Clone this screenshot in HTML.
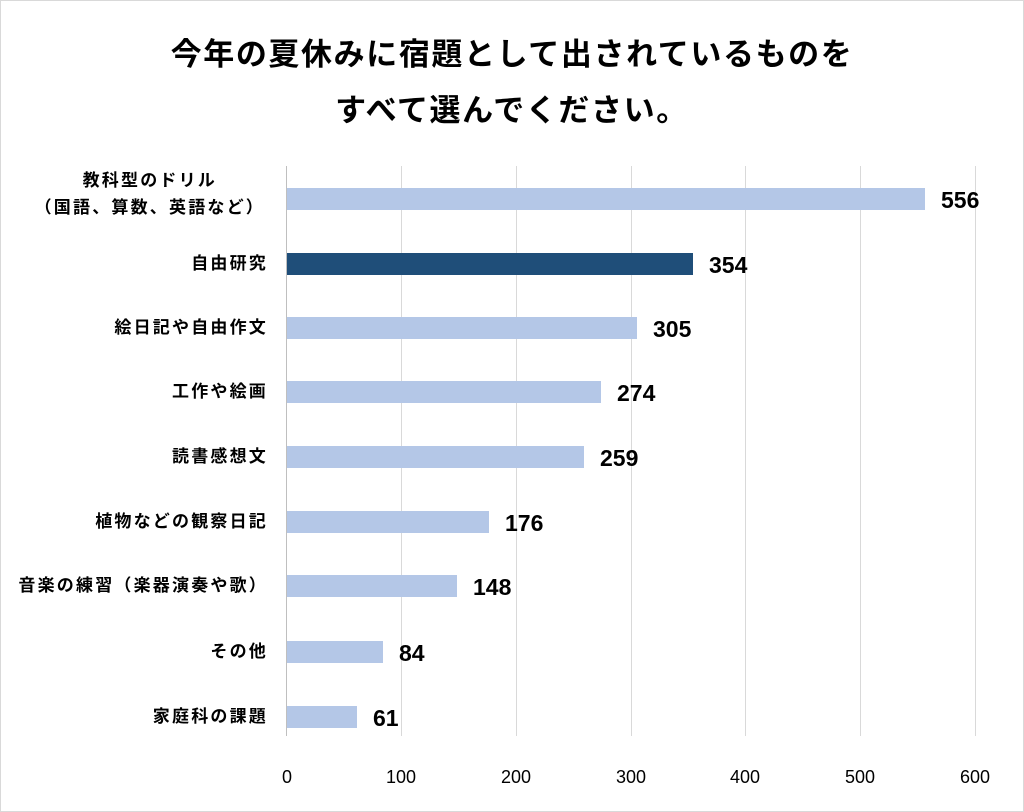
<!DOCTYPE html>
<html><head><meta charset="utf-8"><style>
body{margin:0;background:#fff;}
.wrap{position:relative;width:1022px;height:810px;border:1px solid #d9d9d9;background:#fff;font-family:"Liberation Sans","Noto Sans CJK JP",sans-serif;overflow:hidden}
.t{position:absolute;left:0;width:1022px;text-align:center;font-size:31px;font-weight:bold;color:#000;letter-spacing:1.6px}
.g{position:absolute;top:165px;height:570px;width:1px;background:#d9d9d9}
.bar{position:absolute;left:286px;height:22px;background:#b4c7e7}
.v{position:absolute;font-size:23px;font-weight:bold;color:#000;line-height:22px}
.c{position:absolute;right:755px;font-size:17px;font-weight:bold;letter-spacing:2.2px;color:#000;text-align:right;line-height:20px;white-space:nowrap}
.x{position:absolute;top:766px;font-size:18px;color:#000;width:60px;text-align:center}
</style></head><body><div class="wrap">
<div class="t" style="top:28px">今年の夏休みに宿題として出されているものを</div>
<div class="t" style="top:84px">すべて選んでください。</div>
<div class="g" style="left:285px;background:#bfbfbf"></div>
<div class="g" style="left:400px"></div>
<div class="g" style="left:515px"></div>
<div class="g" style="left:630px"></div>
<div class="g" style="left:744px"></div>
<div class="g" style="left:859px"></div>
<div class="g" style="left:974px"></div>

<div class="bar" style="top:187px;width:638px"></div><div class="v" style="top:188px;left:940px">556</div>
<div class="bar" style="top:252px;width:406px;background:#1f4e79"></div><div class="v" style="top:253px;left:708px">354</div>
<div class="bar" style="top:316px;width:350px"></div><div class="v" style="top:317px;left:652px">305</div>
<div class="bar" style="top:380px;width:314px"></div><div class="v" style="top:381px;left:616px">274</div>
<div class="bar" style="top:445px;width:297px"></div><div class="v" style="top:446px;left:599px">259</div>
<div class="bar" style="top:510px;width:202px"></div><div class="v" style="top:511px;left:504px">176</div>
<div class="bar" style="top:574px;width:170px"></div><div class="v" style="top:575px;left:472px">148</div>
<div class="bar" style="top:640px;width:96px"></div><div class="v" style="top:641px;left:398px">84</div>
<div class="bar" style="top:705px;width:70px"></div><div class="v" style="top:706px;left:372px">61</div>

<div class="c" style="top:170px;text-align:center;right:758px">教科型のドリル<br><span style="line-height:34px">（国語、算数、英語など）</span></div>
<div class="c" style="top:253px">自由研究</div>
<div class="c" style="top:317px">絵日記や自由作文</div>
<div class="c" style="top:381px">工作や絵画</div>
<div class="c" style="top:446px">読書感想文</div>
<div class="c" style="top:511px">植物などの観察日記</div>
<div class="c" style="top:575px">音楽の練習（楽器演奏や歌）</div>
<div class="c" style="top:641px">その他</div>
<div class="c" style="top:706px">家庭科の課題</div>

<div class="x" style="left:256px">0</div>
<div class="x" style="left:370px">100</div>
<div class="x" style="left:485px">200</div>
<div class="x" style="left:600px">300</div>
<div class="x" style="left:714px">400</div>
<div class="x" style="left:829px">500</div>
<div class="x" style="left:944px">600</div>
</div></body></html>
